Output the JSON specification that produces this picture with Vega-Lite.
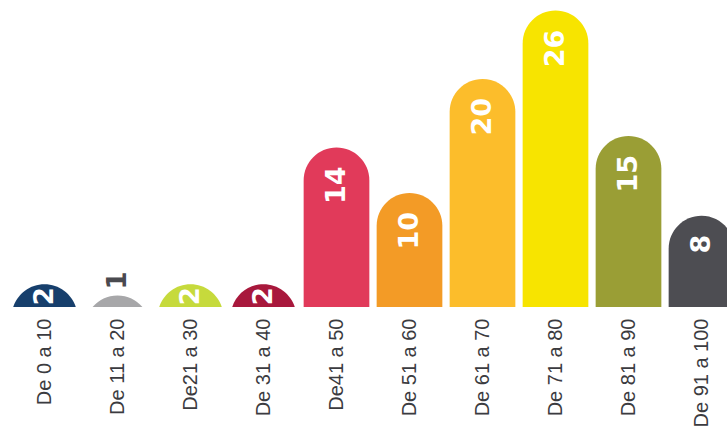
{
  "$schema": "https://vega.github.io/schema/vega-lite/v6.json",
  "width": 719,
  "height": 307,
  "autosize": {"type": "none"},
  "padding": {"left": 8, "top": 0, "right": 0, "bottom": 120},
  "background": "white",
  "config": {"view": {"stroke": null}},
  "data": {
    "values": [
      {"range": "De 0 a 10", "value": 2},
      {"range": "De 11 a 20", "value": 1},
      {"range": "De21 a 30", "value": 2},
      {"range": "De 31 a 40", "value": 2},
      {"range": "De41 a 50", "value": 14},
      {"range": "De 51 a 60", "value": 10},
      {"range": "De 61 a 70", "value": 20},
      {"range": "De 71 a 80", "value": 26},
      {"range": "De 81 a 90", "value": 15},
      {"range": "De 91 a 100", "value": 8}
    ]
  },
  "encoding": {
    "x": {
      "field": "range",
      "type": "nominal",
      "sort": null,
      "scale": {"range": [0, 730], "paddingInner": 0.1, "paddingOuter": 0.05},
      "axis": {
        "title": null,
        "labelAngle": -90,
        "labelPadding": 11,
        "ticks": false,
        "domain": false,
        "labelFont": "Liberation Sans",
        "labelFontSize": 20,
        "labelColor": "#3b3b40",
        "labelLimit": 0,
        "labelOverlap": false
      }
    }
  },
  "layer": [
    {
      "mark": {"type": "bar", "clip": true, "cornerRadiusTopLeft": 40, "cornerRadiusTopRight": 40},
      "encoding": {
        "y": {"field": "value", "type": "quantitative", "scale": {"domain": [0, 26.93], "nice": false}, "axis": null},
        "y2": {"datum": -7},
        "color": {
          "field": "range",
          "type": "nominal",
          "sort": null,
          "legend": null,
          "scale": {
            "domain": ["De 0 a 10", "De 11 a 20", "De21 a 30", "De 31 a 40", "De41 a 50", "De 51 a 60", "De 61 a 70", "De 71 a 80", "De 81 a 90", "De 91 a 100"],
            "range": ["#173f6c", "#a7a7a9", "#c6da3c", "#a8183c", "#e13a5a", "#f39b26", "#fcbd2b", "#f7e400", "#9a9e35", "#4d4d52"]
          }
        }
      }
    },
    {
      "transform": [{"filter": "datum.value >= 5"}],
      "mark": {"type": "text", "angle": 270, "align": "right", "baseline": "middle", "dx": -19, "font": "DejaVu Sans", "fontWeight": "bold", "fontSize": 27, "color": "white"},
      "encoding": {
        "y": {"field": "value", "type": "quantitative"},
        "text": {"field": "value", "type": "quantitative"}
      }
    },
    {
      "transform": [{"filter": "datum.value == 2"}],
      "mark": {"type": "text", "angle": 270, "align": "right", "baseline": "middle", "dx": -3, "font": "DejaVu Sans", "fontWeight": "bold", "fontSize": 26, "color": "white"},
      "encoding": {
        "y": {"field": "value", "type": "quantitative"},
        "text": {"field": "value", "type": "quantitative"}
      }
    },
    {
      "transform": [{"filter": "datum.value == 1"}],
      "mark": {"type": "text", "angle": 270, "align": "left", "baseline": "middle", "dx": 6, "font": "DejaVu Sans", "fontWeight": "bold", "fontSize": 26, "color": "#4a4a4f"},
      "encoding": {
        "y": {"field": "value", "type": "quantitative"},
        "text": {"field": "value", "type": "quantitative"}
      }
    }
  ]
}
